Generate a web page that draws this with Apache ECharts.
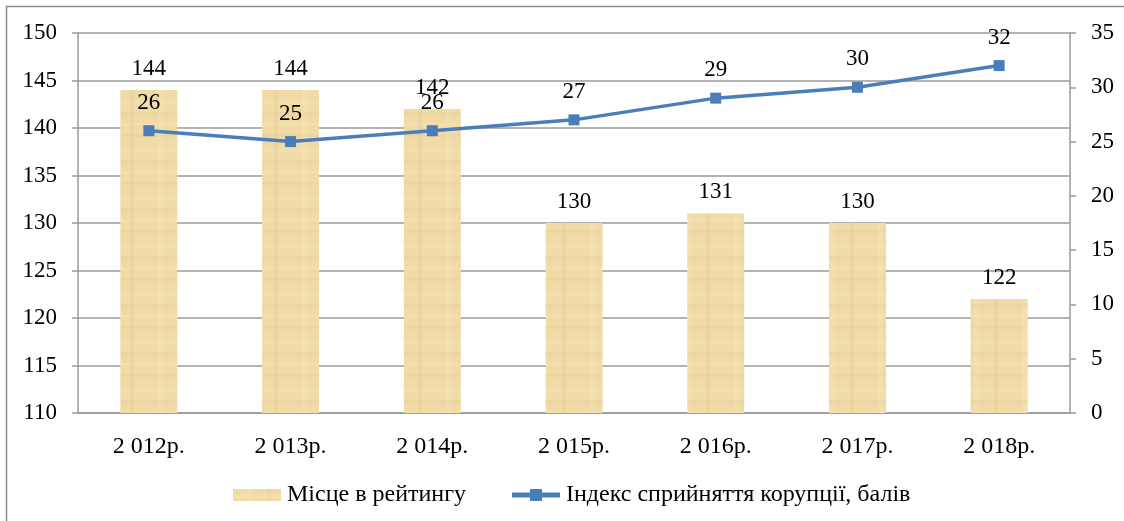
<!DOCTYPE html>
<html>
<head>
<meta charset="utf-8">
<script src="https://cdn.jsdelivr.net/npm/echarts@6/dist/echarts.min.js"></script>
<style>
  html, body { margin: 0; padding: 0; background: #fff; }
  #chart { width: 1124px; height: 521px; }
</style>
</head>
<body>
<div id="chart"></div>
<script>
// дані
const years = ['2 012р.', '2 013р.', '2 014р.', '2 015р.', '2 016р.', '2 017р.', '2 018р.']
const rankPlace = [144, 144, 142, 130, 131, 130, 122]
const cpiScore = [26, 25, 26, 27, 29, 30, 32]
const leftTicks = { min: 110, max: 150, step: 5 }
const rightTicks = { min: 0, max: 35, step: 5 }

const serif = '"Liberation Serif", "Times New Roman", serif'
const gray = '#9a9a9a'
const blue = '#4a7ebb'
const fs = 23

// папірусна текстура для стовпців
function papyrus() {
  const c = document.createElement('canvas')
  c.width = 48
  c.height = 48
  const g = c.getContext('2d')
  g.fillStyle = '#f0daa6'
  g.fillRect(0, 0, 48, 48)
  g.fillStyle = 'rgba(255,242,210,0.2)'
  g.fillRect(0, 5, 48, 4)
  g.fillRect(0, 27, 48, 3)
  g.fillRect(14, 0, 5, 48)
  g.fillStyle = 'rgba(215,185,120,0.12)'
  g.fillRect(0, 16, 48, 4)
  g.fillRect(0, 38, 48, 3)
  g.fillRect(34, 0, 4, 48)
  return c
}

// значок легенди: лінія з квадратним маркером
const lineIcon = 'path://M0,3.5H18V0H30V3.5H48V8.5H30V12H18V8.5H0Z'

const chart = echarts.init(document.getElementById('chart'))
chart.setOption({
  animation: false,
  textStyle: { fontFamily: serif },
  graphic: [{
    type: 'rect',
    shape: { x: 6.5, y: 6.5, width: 1130, height: 530 },
    style: { fill: 'none', stroke: '#8c8c8c', lineWidth: 1.5 },
    silent: true
  }],
  grid: { left: 78, right: 54, top: 33, bottom: 108 },
  legend: {
    left: 228,
    top: 478,
    itemWidth: 48,
    itemHeight: 12,
    itemGap: 46,
    textStyle: { fontFamily: serif, fontSize: 24, color: '#000', padding: [0, 0, 0, 1] },
    data: [
      { name: 'Місце в рейтингу', icon: 'rect' },
      { name: 'Індекс сприйняття корупції, балів', icon: lineIcon }
    ]
  },
  xAxis: {
    type: 'category',
    data: years,
    axisLine: { lineStyle: { color: gray, width: 1.5 } },
    axisTick: { length: 6, lineStyle: { color: gray, width: 1.5 } },
    axisLabel: { fontFamily: serif, fontSize: fs + 1, color: '#000', margin: 22 }
  },
  yAxis: [{
    type: 'value',
    min: leftTicks.min,
    max: leftTicks.max,
    interval: leftTicks.step,
    axisLine: { show: true, lineStyle: { color: gray, width: 1.5 } },
    axisTick: { show: true, length: 6, lineStyle: { color: gray, width: 1.5 } },
    splitLine: { lineStyle: { color: gray, width: 1.5 } },
    axisLabel: { fontFamily: serif, fontSize: fs, color: '#000', margin: 21 }
  }, {
    type: 'value',
    position: 'right',
    min: rightTicks.min,
    max: rightTicks.max,
    interval: rightTicks.step,
    axisLine: { show: true, lineStyle: { color: gray, width: 1.5 } },
    axisTick: { show: true, length: 6, lineStyle: { color: gray, width: 1.5 } },
    splitLine: { show: false },
    axisLabel: { fontFamily: serif, fontSize: fs, color: '#000', margin: 21 }
  }],
  series: [{
    name: 'Місце в рейтингу',
    type: 'bar',
    data: rankPlace,
    barWidth: 57,
    itemStyle: { color: { image: papyrus(), repeat: 'repeat' } },
    label: { show: true, position: 'top', distance: 10, fontFamily: serif, fontSize: fs, color: '#000' }
  }, {
    name: 'Індекс сприйняття корупції, балів',
    type: 'line',
    yAxisIndex: 1,
    data: cpiScore,
    symbol: 'rect',
    symbolSize: 11,
    lineStyle: { color: blue, width: 3.5 },
    itemStyle: { color: blue },
    label: { show: true, position: 'top', distance: 11, fontFamily: serif, fontSize: fs, color: '#000' }
  }]
})
</script>
</body>
</html>
